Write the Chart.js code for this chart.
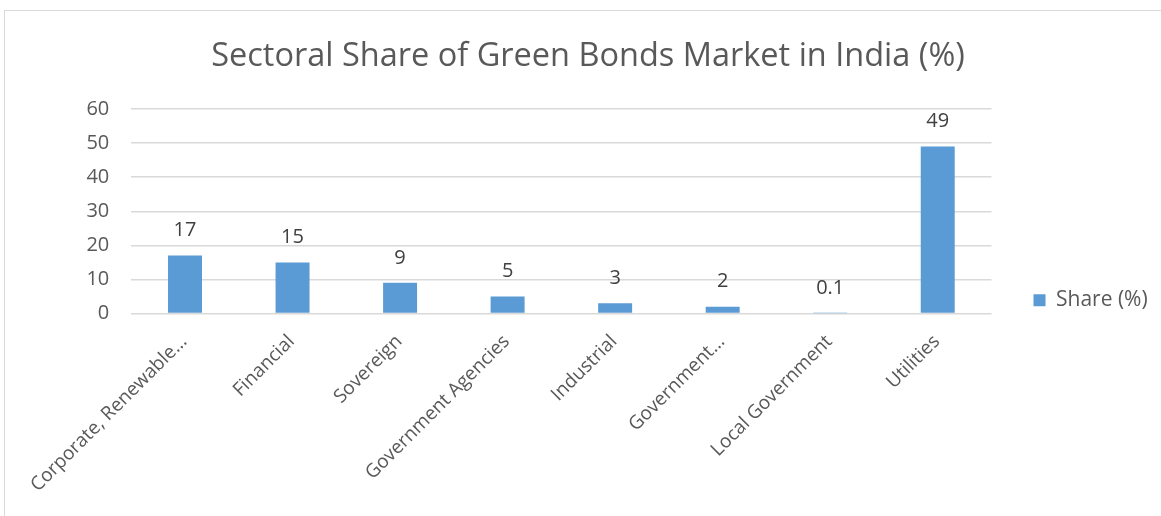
<!DOCTYPE html>
<html><head><meta charset="utf-8">
<script src="https://cdn.jsdelivr.net/npm/chart.js@4.4.1/dist/chart.umd.min.js"></script>
<style>
html,body{margin:0;padding:0;background:#fff;overflow:hidden;width:1161px;height:516px;}
#frame{position:absolute;left:4px;top:10px;width:1200px;height:600px;border:1.5px solid #d9d9d9;box-sizing:border-box;}
#c{position:absolute;}
</style></head><body>
<div id="frame"></div>
<canvas id="c"></canvas>
<script>
// ---- data ----
const categories = ['Corporate, Renewable...', 'Financial', 'Sovereign', 'Government Agencies', 'Industrial', 'Government...', 'Local Government', 'Utilities'];
const shares = [17, 15, 9, 5, 3, 2, 0.1, 49];
const yTicks = [0, 10, 20, 30, 40, 50, 60];
const seriesName = 'Share (%)';
const titleText = 'Sectoral Share of Green Bonds Market in India (%)';

// ---- layout targets (page px) ----
const FONT = '"Open Sans", "Liberation Sans", sans-serif';
const plotLeft = 131.25, plotRight = 991, plotTop = 109, plotBottom = 313.5;
const titleCX = 588, titleCY = 57, legendItemX = 1033, legendCY = 300;
const cx = 5, cy = 11;
const titleSize = 32.5, legendSize = 21, tickSize = 20, catSize = 19, boxW = 12;

const mctx = document.createElement('canvas').getContext('2d');
mctx.font = legendSize + 'px ' + FONT;
const iw = boxW + legendSize / 2 + mctx.measureText(seriesName).width;
const extra = legendSize / 2;
const legendPad = legendItemX - plotRight;
const Lp = 2 * (titleCX - cx) - (legendItemX - cx) - iw - extra;
const W = 1190;
const R = W - (legendItemX - cx) - iw - extra;
const yAxisW = plotLeft - cx - Lp;
const T = titleCY - cy - titleSize * 0.6;
const titleBottomPad = (plotTop - cy) - T - titleSize * 1.2;
const H = Math.round(2 * (legendCY - cy) - T);
const xAxisH = H - (plotBottom - cy);

const cv = document.getElementById('c');
cv.width = W; cv.height = H;
cv.style.left = cx + 'px'; cv.style.top = cy + 'px';
cv.style.width = W + 'px'; cv.style.height = H + 'px';

const valueLabels = {
  id: 'valueLabels',
  afterDatasetsDraw(chart) {
    const ctx = chart.ctx;
    const meta = chart.getDatasetMeta(0);
    ctx.save();
    ctx.font = tickSize + 'px ' + FONT;
    ctx.fillStyle = '#404040';
    ctx.textAlign = 'center';
    ctx.textBaseline = 'middle';
    meta.data.forEach((bar, i) => {
      ctx.fillText(String(chart.data.datasets[0].data[i]), bar.x, bar.y - 25);
    });
    ctx.restore();
  }
};

new Chart(cv, {
  type: 'bar',
  data: {
    labels: categories,
    datasets: [{
      label: seriesName,
      data: shares,
      backgroundColor: '#5b9bd5',
      borderWidth: 0,
      barPercentage: 0.316,
      categoryPercentage: 1
    }]
  },
  options: {
    responsive: false,
    animation: false,
    devicePixelRatio: 1,
    layout: { padding: { left: Lp, right: R, top: T, bottom: 0 } },
    plugins: {
      title: {
        display: true, text: titleText, color: '#595959',
        font: { family: FONT, size: titleSize, weight: 'normal', lineHeight: 1.2 },
        padding: { top: 0, bottom: titleBottomPad }
      },
      legend: {
        display: true, position: 'right', align: 'center', fullSize: true,
        labels: {
          color: '#595959', boxWidth: boxW, boxHeight: boxW, padding: legendPad,
          font: { family: FONT, size: legendSize }
        }
      },
      tooltip: { enabled: false }
    },
    scales: {
      x: {
        grid: { display: false },
        border: { display: false },
        ticks: {
          color: '#595959', font: { family: FONT, size: catSize },
          maxRotation: 45, minRotation: 45, autoSkip: false, padding: 9, labelOffset: -1
        },
        afterFit(s) { s.height = xAxisH; s.paddingLeft = 0; s.paddingRight = 0; }
      },
      y: {
        min: yTicks[0], max: yTicks[yTicks.length - 1],
        grid: { color: '#d9d9d9', lineWidth: 1.5, drawTicks: false },
        border: { display: false },
        afterBuildTicks(s) { s.ticks = yTicks.map(v => ({ value: v })); },
        ticks: { color: '#595959', font: { family: FONT, size: tickSize }, padding: 22 },
        afterFit(s) { s.width = yAxisW; s.paddingTop = 0; s.paddingBottom = 0; }
      }
    }
  },
  plugins: [valueLabels]
});
</script>
</body></html>
